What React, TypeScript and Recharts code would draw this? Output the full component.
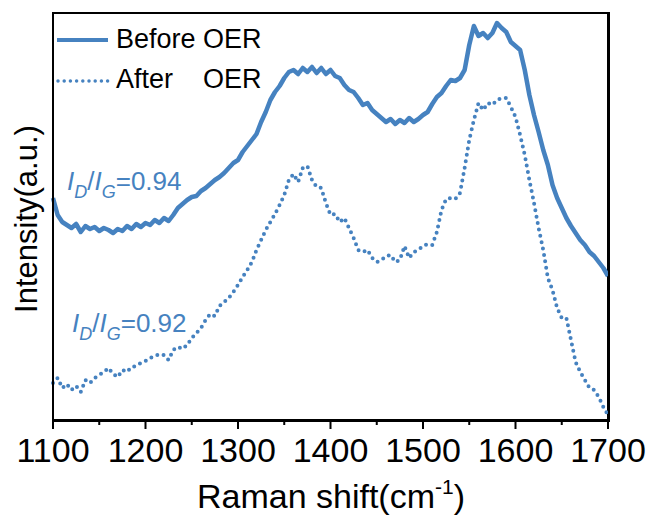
import React from "react";
import { LineChart, Line, XAxis, YAxis, ReferenceArea, Customized } from "recharts";

// Raman shift, cm-1 (every 5 cm-1)
const shift = [
  1100, 1105, 1110, 1115, 1120, 1125, 1130, 1135, 1140, 1145,
  1150, 1155, 1160, 1165, 1170, 1175, 1180, 1185, 1190, 1195,
  1200, 1205, 1210, 1215, 1220, 1225, 1230, 1235, 1240, 1245,
  1250, 1255, 1260, 1265, 1270, 1275, 1280, 1285, 1290, 1295,
  1300, 1305, 1310, 1315, 1320, 1325, 1330, 1335, 1340, 1345,
  1350, 1355, 1360, 1365, 1370, 1375, 1380, 1385, 1390, 1395,
  1400, 1405, 1410, 1415, 1420, 1425, 1430, 1435, 1440, 1445,
  1450, 1455, 1460, 1465, 1470, 1475, 1480, 1485, 1490, 1495,
  1500, 1505, 1510, 1515, 1520, 1525, 1530, 1535, 1540, 1545,
  1550, 1555, 1560, 1565, 1570, 1575, 1580, 1585, 1590, 1595,
  1600, 1605, 1610, 1615, 1620, 1625, 1630, 1635, 1640, 1645,
  1650, 1655, 1660, 1665, 1670, 1675, 1680, 1685, 1690, 1695,
  1700,
];

// intensity, arbitrary units
const beforeOER = [
  222, 205, 198, 195, 192, 196, 188, 194, 191, 193,
  189, 192, 190, 187, 191, 189, 194, 191, 196, 193,
  197, 195, 200, 197, 202, 199, 205, 212, 216, 220,
  223, 224, 229, 232, 236, 240, 243, 247, 252, 257,
  260, 268, 274, 280, 286, 298, 308, 320, 328, 334,
  342, 348, 350, 346, 352, 348, 353, 347, 352, 346,
  350, 344, 342, 335, 330, 328, 322, 315, 317, 310,
  306, 302, 298, 301, 296, 300, 297, 302, 298, 301,
  305, 308, 316, 323, 327, 334, 340, 339, 342, 350,
  375, 394, 384, 387, 382, 387, 397, 392, 388, 378,
  374, 370, 350, 325, 305, 288, 270, 255, 235, 222,
  212, 202, 194, 187, 180, 175, 168, 164, 158, 152,
  144,
];

const afterOER = [
  37, 42, 32, 36, 30, 34, 28, 40, 37, 42,
  45, 48, 52, 46, 43, 50, 48, 53, 54, 57,
  59, 62, 64, 66, 65, 60, 70, 73, 71, 75,
  82, 87, 92, 100, 106, 104, 114, 118, 122, 128,
  135, 143, 150, 158, 170, 180, 190, 198, 206, 215,
  225, 240, 246, 238, 252, 254, 240, 233, 232, 217,
  205, 206, 198, 202, 192, 182, 170, 168, 170, 162,
  158, 160, 164, 165, 158, 160, 174, 162, 168, 170,
  174, 176, 175, 188, 210, 221, 222, 221, 227, 252,
  280, 300, 317, 310, 317, 315, 320, 322, 322, 313,
  303, 285, 265, 240, 217, 192, 170, 142, 130, 112,
  102, 102, 80, 58, 48, 40, 32, 30, 23, 13,
  5,
];

const xTicks = [
  1100, 1150, 1200, 1250, 1300, 1350, 1400, 1450, 1500, 1550, 1600, 1650, 1700,
];

const rows = shift.map((w, i) => ({ w, before: beforeOER[i], after: afterOER[i] }));

const BLUE = "#4682c0";
const FONT = "'Liberation Sans', Arial, sans-serif";

// outward tick marks; labels only on the hundreds
const XTick = (props: any) => {
  const { x, y, payload } = props;
  const major = payload.value % 100 === 0;
  return (
    <g>
      <rect x={x - 1} y={y} width={2} height={major ? 9 : 5} fill="#000" />
      {major && (
        <text x={x} y={y + 42} textAnchor="middle" fontSize={34} fontFamily={FONT} fill="#000">
          {payload.value}
        </text>
      )}
    </g>
  );
};

const Ratio = ({ x, y, value }: { x: number; y: number; value: string }) => (
  <text x={x} y={y} fontSize={26} fill={BLUE}>
    <tspan fontStyle="italic">I</tspan>
    <tspan fontSize={18} fontStyle="italic" dy={8}>D</tspan>
    <tspan dy={-8}>/</tspan>
    <tspan fontStyle="italic">I</tspan>
    <tspan fontSize={18} fontStyle="italic" dy={8}>G</tspan>
    <tspan dy={-8}>={value}</tspan>
  </text>
);

const Extras = () => (
  <g fontFamily={FONT}>
    {/* legend */}
    <rect x={57} y={38} width={51} height={4} fill={BLUE} />
    <text x={116} y={48} fontSize={27} fill="#000">Before OER</text>
    <line
      x1={58}
      x2={108}
      y1={81}
      y2={81}
      stroke={BLUE}
      strokeWidth={3.5}
      strokeDasharray="0 6.2"
      strokeLinecap="round"
    />
    <text x={116} y={88} fontSize={27} fill="#000" xmlSpace="preserve">
      After{"    "}OER
    </text>

    <Ratio x={67} y={190} value="0.94" />
    <Ratio x={72} y={332} value="0.92" />

    {/* axis titles */}
    <text
      x={37}
      y={219}
      fontSize={31}
      fill="#000"
      textAnchor="middle"
      transform="rotate(-90 37 219)"
    >
      Intensity(a.u.)
    </text>
    <text x={331} y={508} fontSize={34} fill="#000" textAnchor="middle">
      Raman shift(cm
      <tspan fontSize={21} dy={-14}>-1</tspan>
      <tspan dy={14}>)</tspan>
    </text>
  </g>
);

export default function App() {
  return (
    <div style={{ position: "absolute", left: 0, top: 0, width: 652, height: 517, background: "#fff" }}>
      <LineChart
        width={652}
        height={517}
        data={rows}
        margin={{ top: 13, right: 44, bottom: 37, left: 53 }}
      >
        <XAxis
          dataKey="w"
          type="number"
          domain={[1100, 1700]}
          ticks={xTicks}
          interval={0}
          height={60}
          tickLine={false}
          axisLine={false}
          tickSize={0}
          tickMargin={0}
          tick={<XTick />}
        />
        <YAxis domain={[0, 407]} hide />
        <ReferenceArea
          x1={1100}
          x2={1700}
          y1={0}
          y2={407}
          fill="none"
          stroke="#000"
          strokeWidth={2}
        />
        <Line
          type="linear"
          dataKey="after"
          stroke={BLUE}
          strokeWidth={4}
          strokeDasharray="0 6.5"
          strokeLinecap="round"
          dot={false}
          isAnimationActive={false}
        />
        <Line
          type="linear"
          dataKey="before"
          stroke={BLUE}
          strokeWidth={4.5}
          strokeLinejoin="round"
          dot={false}
          isAnimationActive={false}
        />
        <Customized component={Extras} />
      </LineChart>
      {/* plot frame as an overlay box around the plotting area */}
      <div
        style={{
          position: "absolute",
          left: 52,
          top: 12,
          width: 554,
          height: 406,
          border: "2px solid #000",
          pointerEvents: "none",
        }}
      />
    </div>
  );
}
